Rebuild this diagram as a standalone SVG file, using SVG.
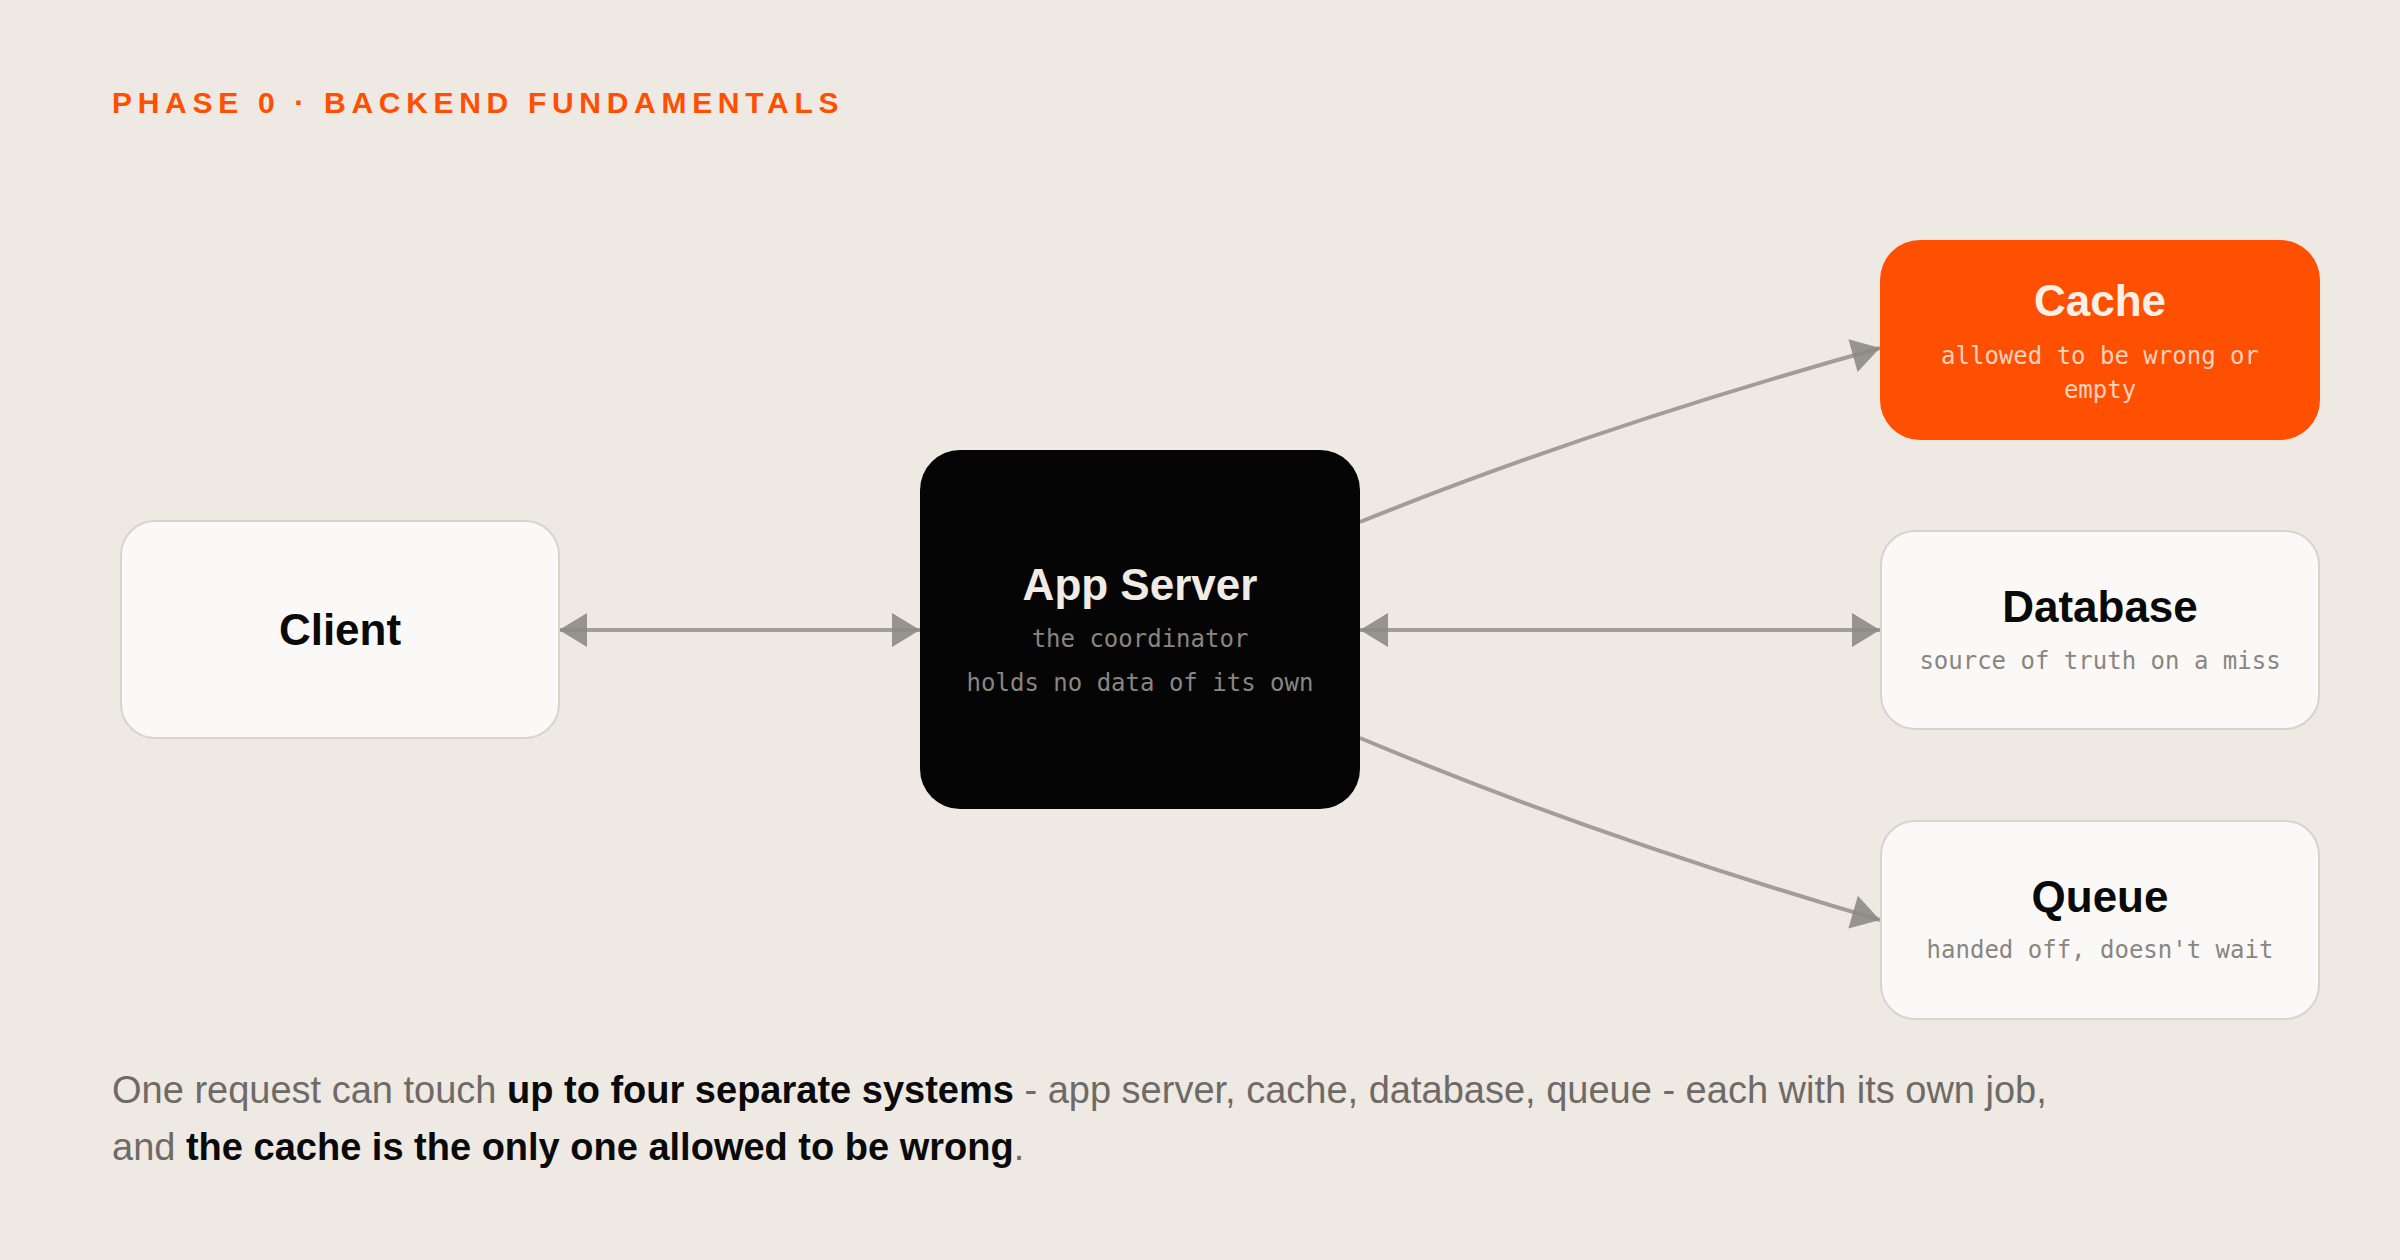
<svg xmlns="http://www.w3.org/2000/svg" width="2400" height="1260" viewBox="0 0 2400 1260">
  <style>
    .title { font-family: "Liberation Sans", Arial, sans-serif; font-weight: 700; font-size: 30px; letter-spacing: 5.7px; fill: #FF4F00; }
    .light { fill: #FAF9F7; stroke: #D8D3CD; stroke-width: 2; }
    .name { font-family: "Liberation Sans", Arial, sans-serif; font-weight: 700; font-size: 44px; text-anchor: middle; }
    .sub { font-family: "DejaVu Sans Mono", "Liberation Mono", monospace; font-size: 24px; text-anchor: middle; fill: #8A8580; }
    .edge { fill: none; stroke: #A19D97; stroke-width: 4; }
    .foot { font-family: "Liberation Sans", Arial, sans-serif; font-size: 38px; fill: #6E6A66; }
    .foot .b { font-weight: 700; fill: #0A0A0A; }
  </style>
  <defs>
    <marker id="arrow" markerUnits="userSpaceOnUse" markerWidth="30" markerHeight="36" viewBox="0 0 30 36" refX="29" refY="18" orient="auto-start-reverse">
      <path d="M1,1 L29,18 L1,35 z" fill="#8D8985" fill-opacity="0.9"/>
    </marker>
  </defs>
  <rect width="2400" height="1260" fill="#EEE9E3"/>
  <text class="title" x="112" y="113">PHASE 0 · BACKEND FUNDAMENTALS</text>

  <g id="connectors">
    <line class="edge" x1="559" y1="630" x2="920" y2="630" marker-start="url(#arrow)" marker-end="url(#arrow)"/>
    <line class="edge" x1="1360" y1="630" x2="1880" y2="630" marker-start="url(#arrow)" marker-end="url(#arrow)"/>
    <path class="edge" d="M1360,522 Q1593,428 1880,348" marker-end="url(#arrow)"/>
    <path class="edge" d="M1360,738 Q1593,836 1880,920" marker-end="url(#arrow)"/>
  </g>

  <g id="client">
    <rect class="light" x="121" y="521" width="438" height="217" rx="34"/>
    <text class="name" x="340" y="645" fill="#0A0A0A">Client</text>
  </g>

  <g id="app-server">
    <rect x="920" y="450" width="440" height="359" rx="40" fill="#050505"/>
    <text class="name" x="1140" y="600" fill="#F0EBE5">App Server</text>
    <text class="sub" x="1140" y="647" fill="#8C8884">the coordinator</text>
    <text class="sub" x="1140" y="691" fill="#8C8884">holds no data of its own</text>
  </g>

  <g id="cache">
    <rect x="1880" y="240" width="440" height="200" rx="40" fill="#FF4F00"/>
    <text class="name" x="2100" y="316" fill="#FCEFE6">Cache</text>
    <text class="sub" x="2100" y="364" style="fill:#FFD3BF">allowed to be wrong or</text>
    <text class="sub" x="2100" y="398" style="fill:#FFD3BF">empty</text>
  </g>

  <g id="database">
    <rect class="light" x="1881" y="531" width="438" height="198" rx="34"/>
    <text class="name" x="2100" y="622" fill="#0A0A0A">Database</text>
    <text class="sub" x="2100" y="669">source of truth on a miss</text>
  </g>

  <g id="queue">
    <rect class="light" x="1881" y="821" width="438" height="198" rx="34"/>
    <text class="name" x="2100" y="912" fill="#0A0A0A">Queue</text>
    <text class="sub" x="2100" y="958">handed off, doesn't wait</text>
  </g>

  <text class="foot" x="112" y="1103">One request can touch <tspan class="b">up to four separate systems</tspan> - app server, cache, database, queue - each with its own job,</text>
  <text class="foot" x="112" y="1160">and <tspan class="b">the cache is the only one allowed to be wrong</tspan>.</text>
</svg>
